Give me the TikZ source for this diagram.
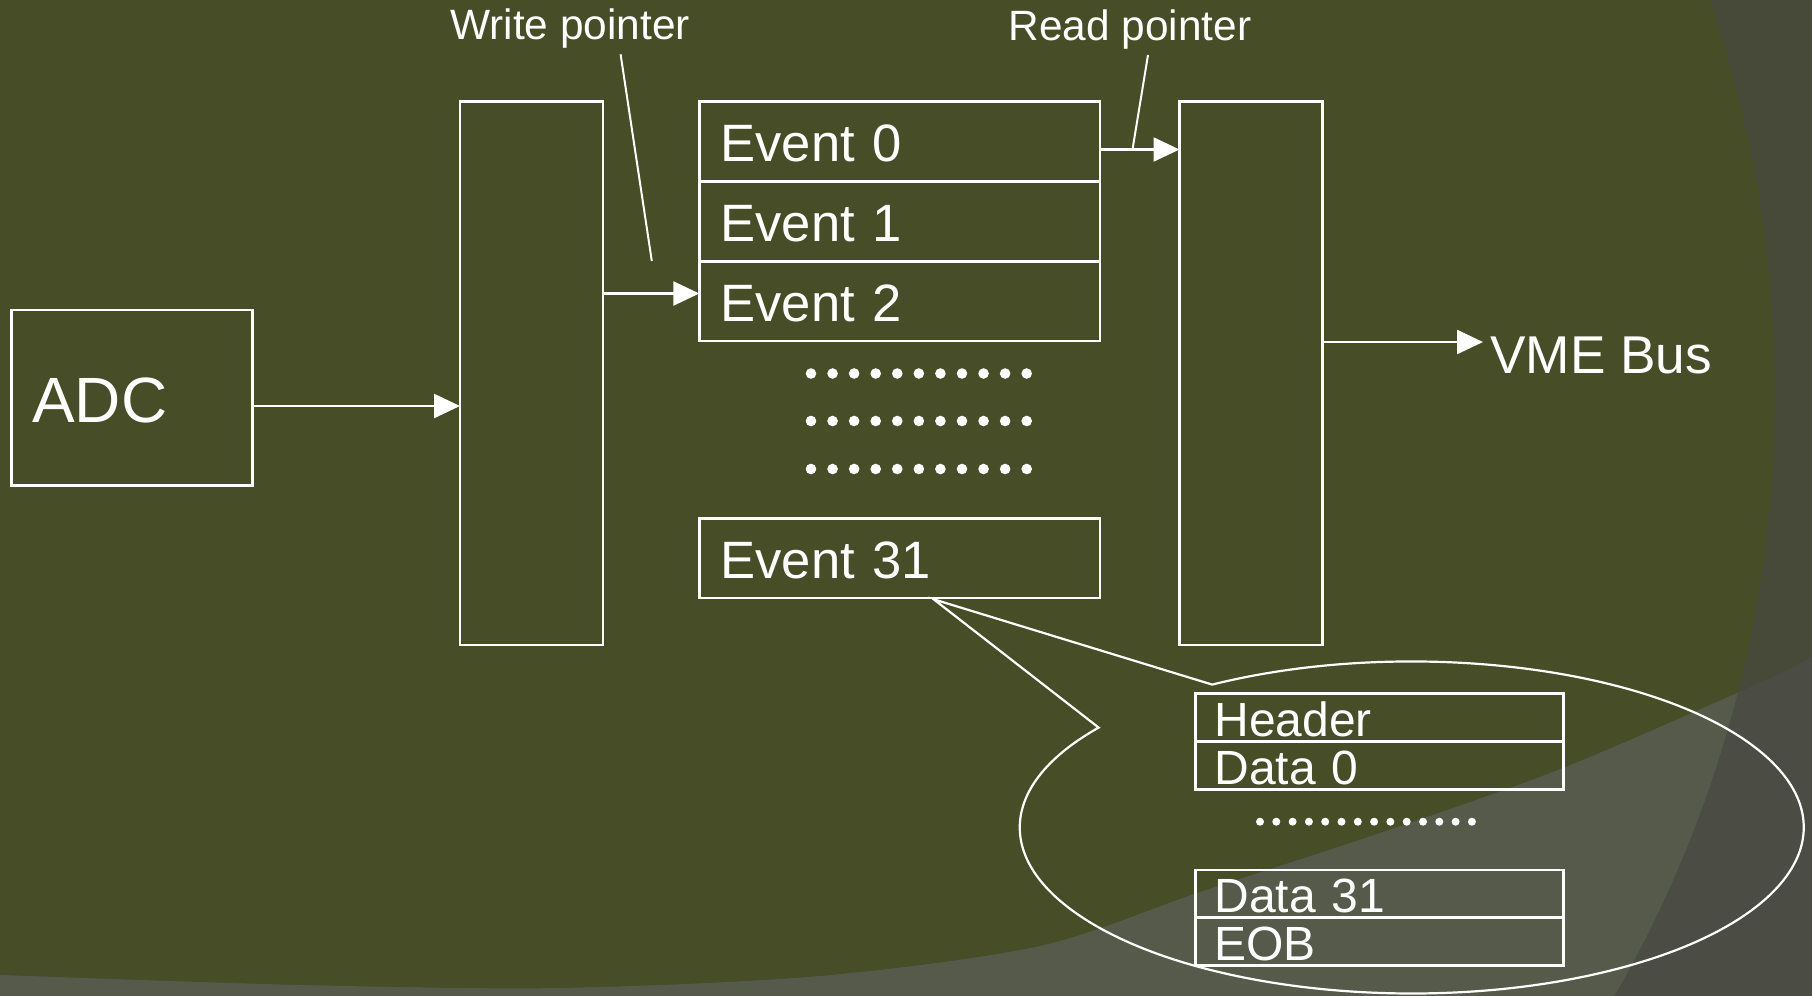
\documentclass[tikz,border=0pt]{standalone}
\usepackage{fontspec}
\setmainfont{Liberation Sans}
\usetikzlibrary{arrows.meta}
\newcommand\fsz[1]{\fontsize{#1}{#1}\selectfont}
\definecolor{olive}{RGB}{70,77,39}
\definecolor{grayR}{RGB}{71,74,57}
\definecolor{bandL}{RGB}{86,90,74}
\definecolor{bandR}{RGB}{75,76,68}
\begin{document}
\begin{tikzpicture}[x=0.5pt,y=-0.5pt,
  box/.style={draw=white, line width=1.25pt, inner ysep=0pt, outer sep=0pt, text=white, align=left, text depth=0pt},
  evbox/.style={box, minimum width=200.35pt, minimum height=39.9pt, inner xsep=10.6pt, text width=179.15pt, text height=20.1pt, font=\fsz{26.3}},
  databox/.style={box, minimum width=183.8pt, minimum height=24pt, inner xsep=9.4pt, text width=165pt, text height=19pt, font=\fsz{24}},
  tallbox/.style={box, minimum width=71.5pt, minimum height=271.55pt, inner sep=0pt},
  conn/.style={draw=white, line width=1.25pt, -{Triangle[length=13pt,width=12pt]}},
  ptr/.style={draw=white, line width=1pt},
  lbl/.style={text=white, inner sep=0pt, anchor=base},
  dot/.style={fill=white},
]
\useasboundingbox (0,0) rectangle (1812,996);
% ---------- background ----------
\begin{scope}
\clip (0,0) rectangle (1812,996);
\fill[grayR] (0,0) rectangle (1812,996);
\begin{scope}
\clip (568,394) circle[radius=1207];
\fill[olive] (0,0) rectangle (1812,996);
\end{scope}
\fill[bandR] (0,975) plot[smooth] coordinates {(0,975) (300,985) (560,988) (820,976) (1040,946) (1200,892) (1380,833) (1563,768) (1766,680) (1812,656)} -- (1812,996) -- (0,996) -- cycle;
\begin{scope}
\clip (568,394) circle[radius=1207];
\fill[bandL] (0,975) plot[smooth] coordinates {(0,975) (300,985) (560,988) (820,976) (1040,946) (1200,892) (1380,833) (1563,768) (1766,680) (1812,656)} -- (1812,996) -- (0,996) -- cycle;
\end{scope}
\end{scope}
% ---------- boxes ----------
\node[box, minimum width=120.3pt, minimum height=87.65pt, inner xsep=10.3pt, text width=99.7pt, text height=24.6pt, font=\fsz{32}] (adc) at (132,397.7) {ADC};
\node[tallbox] (buf1) at (531.5,373.25) {};
\node[tallbox] (buf2) at (1251,373.25) {};
\node[evbox] (ev0) at (899.65,141.6) {Event 0};
\node[evbox] (ev1) at (899.65,221.4) {Event 1};
\node[evbox] (ev2) at (899.65,301.2) {Event 2};
\node[evbox] (ev31) at (899.65,558.3) {Event 31};
% ---------- dots ----------
\foreach \r in {373.5,421,469}{
  \foreach \i in {0,...,10}{
    \fill[dot] (811+21.57*\i,\r) circle[radius=5.3];
  }
}
% ---------- labels ----------
\node[lbl, font=\fsz{21.2}] (wp) at (570,39.3) {Write pointer};
\node[lbl, font=\fsz{21.2}] (rp) at (1130,40.3) {Read pointer};
\node[text=white, inner xsep=3.5pt, inner ysep=0pt, anchor=base west, font=\fsz{26.6}] (vme) at (1483,373.7) {VME Bus};
% ---------- connectors ----------
\coordinate (ya) at (0,406);
\coordinate (yw) at (0,293.5);
\coordinate (yr) at (0,149.5);
\coordinate (yv) at (0,342);
\draw[conn] (adc.east |- ya) -- (buf1.west |- ya);
\draw[conn] (buf1.east |- yw) -- (ev2.west |- yw);
\draw[conn] (ev0.east |- yr) -- (buf2.west |- yr);
\draw[conn] (buf2.east |- yv) -- (vme.west |- yv);
\coordinate (wpa) at (620.6,54.3);
\coordinate (wpb) at (651.8,261);
\coordinate (rpa) at (1148,55);
\coordinate (rpb) at (1132.5,149.5);
\draw[ptr] (wpa) -- (wpb);
\draw[ptr] (rpa) -- (rpb);
% ---------- callout ----------
\coordinate (tip) at (933.7,599.3);
\coordinate (cp1) at (1212.2,684.6);
\draw[white, line width=1.1pt, line join=miter] (tip) -- (cp1) arc[start angle=239.4, end angle=577, x radius=392, y radius=166] -- cycle;
\node[databox] (hdr) at (1379.5,717.5) {Header};
\node[databox] (d0) at (1379.5,765.5) {Data 0};
\node[databox] (d31) at (1379.5,893.75) {Data 31};
\node[databox] (eob) at (1379.5,941.25) {EOB};
\foreach \i in {0,...,13}{
  \fill[dot] (1260+16.3*\i,821.7) circle[radius=4];
}
\end{tikzpicture}
\end{document}
